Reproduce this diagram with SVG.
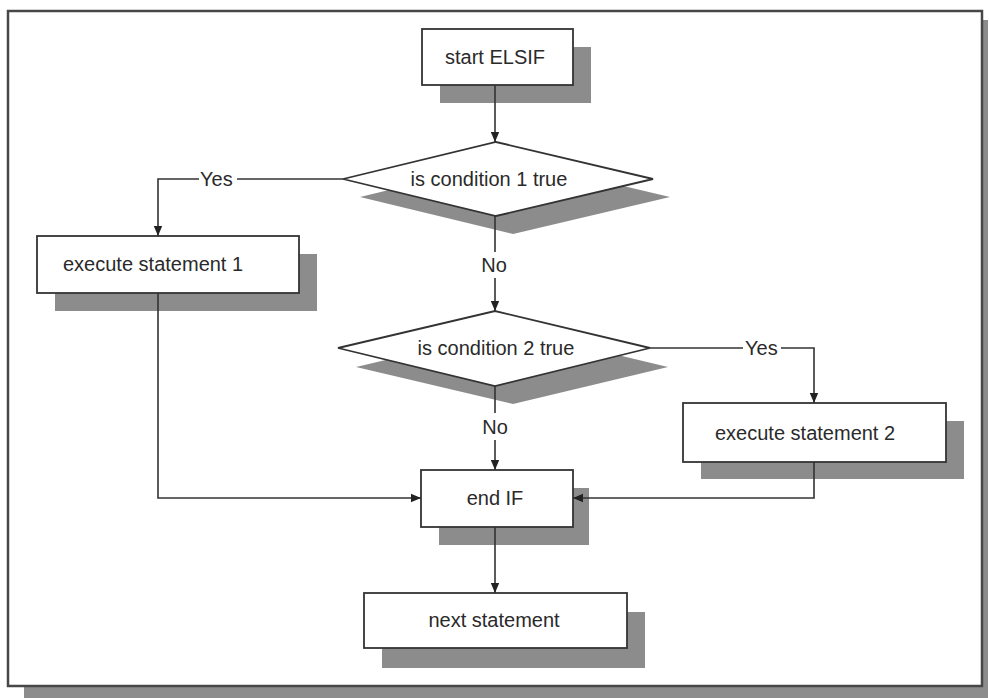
<svg xmlns="http://www.w3.org/2000/svg" width="989" height="698" viewBox="0 0 989 698">
<style>
.shadow{fill:#8c8c8c;stroke:none}
.node{fill:#ffffff;stroke:#333333;stroke-width:1.8}
.lbl{font-family:"Liberation Sans",Arial,sans-serif;font-size:20px;fill:#2a2a2a}
.mid{text-anchor:middle}
.conn{fill:none;stroke:#333333;stroke-width:1.6}
</style>
<defs>
<marker id="arrow" markerUnits="userSpaceOnUse" markerWidth="10" markerHeight="10" viewBox="0 0 10 10" refX="10" refY="5" orient="auto">
<path d="M0,0.8 L10,5 L0,9.2 z" fill="#222222"/>
</marker>
</defs>
<g id="frame">
<rect x="24" y="20" width="964" height="678" class="shadow"/>
<rect x="8" y="11" width="974" height="675" fill="#ffffff" stroke="#474747" stroke-width="2.5"/>
</g>
<g id="start">
<rect class="shadow" x="440" y="47" width="151" height="56"/>
<rect class="node" x="422" y="29" width="151" height="56"/>
<text class="lbl mid" x="495" y="64">start ELSIF</text>
</g>
<g id="cond1">
<polygon class="shadow" points="360,197 513,160 670,197 513,234"/>
<polygon class="node" points="343,179 496,142 653,179 496,216"/>
<text class="lbl mid" x="489" y="186">is condition 1 true</text>
</g>
<g id="exec1">
<rect class="shadow" x="55" y="254" width="262" height="57"/>
<rect class="node" x="37" y="236" width="262" height="57"/>
<text class="lbl" x="63" y="271">execute statement 1</text>
</g>
<g id="cond2">
<polygon class="shadow" points="356,367 513,330 668,367 513,404"/>
<polygon class="node" points="338,348 495,311 650,348 495,386"/>
<text class="lbl mid" x="496" y="355">is condition 2 true</text>
</g>
<g id="exec2">
<rect class="shadow" x="701" y="421" width="263" height="58"/>
<rect class="node" x="683" y="403" width="263" height="59"/>
<text class="lbl" x="715" y="440">execute statement 2</text>
</g>
<g id="endif">
<rect class="shadow" x="439" y="488" width="150" height="57"/>
<rect class="node" x="421" y="470" width="152" height="57"/>
<text class="lbl mid" x="495" y="505">end IF</text>
</g>
<g id="next">
<rect class="shadow" x="382" y="612" width="263" height="56"/>
<rect class="node" x="364" y="593" width="263" height="55"/>
<text class="lbl mid" x="494" y="627">next statement</text>
</g>
<g id="connectors">
<line class="conn" x1="495" y1="85" x2="495" y2="142" marker-end="url(#arrow)"/>
<polyline class="conn" points="343,179 237,179"/>
<polyline class="conn" points="199,179 158,179 158,236" marker-end="url(#arrow)"/>
<line class="conn" x1="495" y1="216" x2="495" y2="252"/>
<line class="conn" x1="495" y1="278" x2="495" y2="311" marker-end="url(#arrow)"/>
<polyline class="conn" points="650,348 743,348"/>
<polyline class="conn" points="781,348 814,348 814,403" marker-end="url(#arrow)"/>
<line class="conn" x1="495" y1="386" x2="495" y2="413"/>
<line class="conn" x1="495" y1="440" x2="495" y2="470" marker-end="url(#arrow)"/>
<polyline class="conn" points="158,293 158,498 421,498" marker-end="url(#arrow)"/>
<polyline class="conn" points="814,462 814,498 573,498" marker-end="url(#arrow)"/>
<line class="conn" x1="495" y1="527" x2="495" y2="593" marker-end="url(#arrow)"/>
<text class="lbl" x="200" y="186">Yes</text>
<text class="lbl" x="745" y="355">Yes</text>
<text class="lbl mid" x="494" y="272">No</text>
<text class="lbl mid" x="495" y="434">No</text>
</g>
</svg>
